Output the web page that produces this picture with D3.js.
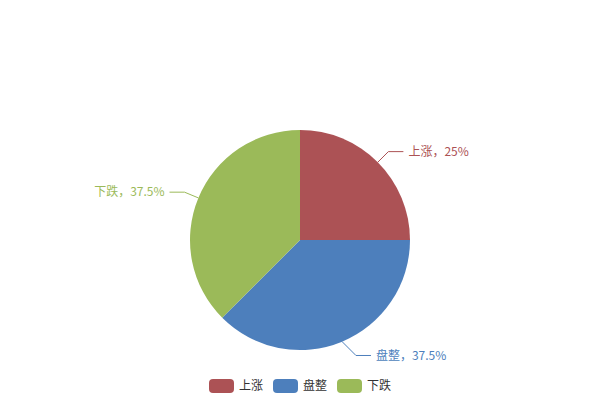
<!DOCTYPE html>
<html><head><meta charset="utf-8">
<script src="https://cdn.jsdelivr.net/npm/d3@7"></script>
<style>body{margin:0;background:#fff}svg{display:block}</style>
</head><body>
<svg id="chart" width="600" height="400"></svg>
<script>
const categories = ["上涨", "盘整", "下跌"];
const values = [25, 37.5, 37.5];
const colors = ["#AC5255", "#4D7FBC", "#9BBA59"];

const W = 600, H = 400, cx = 300, cy = 240, R = 110;
const font = "'Noto Sans CJK SC','Microsoft YaHei',sans-serif";
const svg = d3.select("#chart");
const color = d3.scaleOrdinal().domain(categories).range(colors);
const total = d3.sum(values);
const data = categories.map((c, i) => ({name: c, value: values[i]}));
const pie = d3.pie().value(d => d.value).sort(null);
const arcs = pie(data);
const arc = d3.arc().innerRadius(0).outerRadius(R);

const g = svg.append("g").attr("transform", `translate(${cx},${cy})`);
g.selectAll("path.slice").data(arcs).enter().append("path")
  .attr("class", "slice")
  .attr("d", arc)
  .attr("fill", d => color(d.data.name));

const len1 = 15, len2 = 15;
arcs.forEach(a => {
  const m = (a.startAngle + a.endAngle) / 2;
  const sx = Math.sin(m), sy = -Math.cos(m);
  const p0 = [R * sx, R * sy];
  let dy = len1 * sy, dx = len1 * sx;
  if (Math.abs(dy) > Math.abs(dx)) dx = Math.sign(dx) * Math.abs(dy);
  const p1 = [p0[0] + dx, p0[1] + dy];
  const side = sx >= 0 ? 1 : -1;
  const p2 = [p1[0] + side * len2, p1[1]];
  const c = color(a.data.name);
  g.append("polyline")
    .attr("points", [p0, p1, p2].map(p => p.join(",")).join(" "))
    .attr("fill", "none").attr("stroke", c).attr("stroke-width", 1);
  const pct = d3.format("~r")(+(a.data.value / total * 100).toFixed(2));
  g.append("text")
    .attr("x", p2[0] + side * 5).attr("y", p2[1])
    .attr("dy", "0.35em")
    .attr("text-anchor", side > 0 ? "start" : "end")
    .attr("font-family", font).attr("font-size", 12)
    .attr("fill", c)
    .text(`${a.data.name}，${pct}%`);
});

// legend
const iconW = 25, iconH = 14, gap = 10, textPad = 5, textW = 24;
const itemW = iconW + textPad + textW;
const totalW = categories.length * itemW + (categories.length - 1) * gap;
const lx = (W - totalW) / 2, ly = 386;
const leg = svg.append("g");
categories.forEach((c, i) => {
  const x = lx + i * (itemW + gap);
  leg.append("rect").attr("x", x).attr("y", ly - iconH / 2)
    .attr("width", iconW).attr("height", iconH).attr("rx", 4).attr("ry", 4)
    .attr("fill", color(c));
  leg.append("text").attr("x", x + iconW + textPad).attr("y", ly)
    .attr("dy", "0.35em")
    .attr("font-family", font).attr("font-size", 12).attr("fill", "#333")
    .text(c);
});
</script>
</body></html>
